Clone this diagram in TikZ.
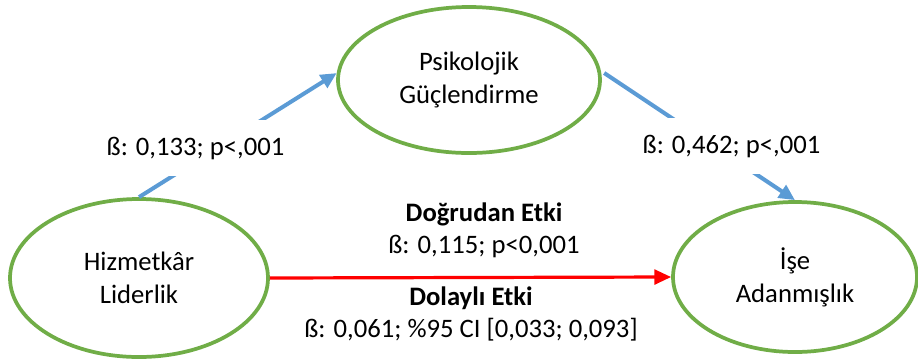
\documentclass[tikz,border=0pt]{standalone}
\usepackage{fontspec}
\setmainfont{Carlito}
\usetikzlibrary{arrows.meta,shapes.geometric}
\definecolor{ovalgreen}{HTML}{70AD47}
\definecolor{pathblue}{HTML}{5B9BD5}
\tikzset{
  construct/.style = {draw=ovalgreen, line width=2.8pt, ellipse, inner sep=0pt, align=center},
  path/.style = {draw=pathblue, line width=3pt, -{Triangle[length=12pt, width=11pt]}},
  effect/.style = {draw=red, line width=2.4pt, -{Triangle[length=12.5pt, width=11pt]}},
  coef/.style = {fill=white, anchor=base, inner xsep=2pt, inner ysep=12.75pt},
  note/.style = {anchor=base, inner sep=0pt}
}

\begin{document}
\begin{tikzpicture}[x=0.75pt, y=-0.75pt, font=\fontsize{20}{24.75}\selectfont]
        \useasboundingbox (0,0) rectangle (918,362);
        %Constructs
        \node [construct, minimum width=193.5pt, minimum height=118.5pt] (hl) at (139,278) {Hizmetkâr\\Liderlik};
        \node [construct, minimum width=196.5pt, minimum height=109.5pt] (pg) at (469,80) {Psikolojik\\Güçlendirme};
        \node [construct, minimum width=183pt, minimum height=112.5pt] (ia) at (795,277) {İşe\\Adanmışlık};
        %Paths
        \draw [path] (hl.north) -- (pg.177);
        \draw [path, shorten <=3pt] (pg.4) -- (ia.north);
        \draw [effect] (hl.east) -- (ia.west);
        %Coefficients
        \node [coef] (a) at (195.5,155) {ß: 0,133; p<,001};
        \node [coef] (b) at (731.5,153) {ß: 0,462; p<,001};
        \node [note] (direct) at (484,221) {\textbf{Doğrudan Etki}};
        \node [note] (directb) at (484,253) {ß: 0,115; p<0,001};
        \node [note] (indirect) at (471,305) {\textbf{Dolaylı Etki}};
        \node [note] (indirectb) at (471,337) {ß: 0,061; \%95 CI [0,033; 0,093]};
\end{tikzpicture}
\end{document}
